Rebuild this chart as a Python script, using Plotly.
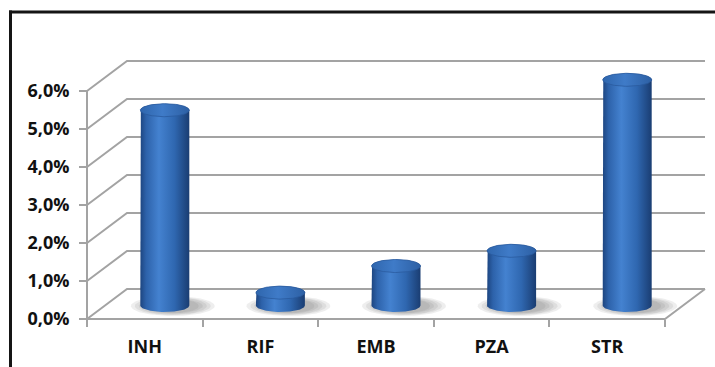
import numpy as np
import plotly.graph_objects as go

# Drug resistance rates per drug
categories = ["INH", "RIF", "EMB", "PZA", "STR"]
values = [0.051, 0.003, 0.010, 0.014, 0.059]
y_ticks = [0.00, 0.01, 0.02, 0.03, 0.04, 0.05, 0.06]

W, H = 715, 367
# pixel geometry of the pseudo-3D box
X0_PX, CAT_PX = 87, 115.6          # front-left corner, width of one category
Y0_PX, PCT_PX = 319, 38.0          # front floor level, pixels per 1 %
DEPTH_DX_PX, DEPTH_DY_PX = 40, 30  # receding offset of the back wall

dx = DEPTH_DX_PX / CAT_PX
dy = DEPTH_DY_PX / PCT_PX / 100
n = len(categories)

x_range = [-X0_PX / CAT_PX, (W - X0_PX) / CAT_PX]
y_range = [(Y0_PX - H) / PCT_PX / 100, Y0_PX / PCT_PX / 100]

GRID = "#a3a3a3"
fig = go.Figure()


def line(xs, ys, color=GRID, width=2):
    fig.add_trace(go.Scatter(x=xs, y=ys, mode="lines", line=dict(color=color, width=width),
                             hoverinfo="skip", showlegend=False))


# side-wall and back-wall gridlines
for v in y_ticks:
    line([0, dx, n + dx], [v, v + dy, v + dy])
# front edges of the box
line([0, 0], [0, y_ticks[-1]])
line([0, n, n + dx], [0, 0, dy])

# cylinder geometry (in data units)
rx = 24.5 / CAT_PX
ry = 6.5 / PCT_PX / 100
base = dy / 2 - 1.5 / PCT_PX / 100
t_up = np.linspace(np.pi, 0, 60)
t_dn = np.linspace(0, -np.pi, 60)
t_all = np.linspace(0, 2 * np.pi, 120)

# soft floor shadows, slightly offset to the right of each base
for i in range(n):
    cx = i + 0.5 + dx / 2
    for sx, sy in [(42, 10), (38, 9), (34, 8.5), (30, 7.5), (26, 7)]:
        ex = cx + 8 / CAT_PX + sx / CAT_PX * np.cos(t_all)
        ey = base - 0.5 / PCT_PX / 100 + sy / PCT_PX / 100 * np.sin(t_all)
        fig.add_trace(go.Scatter(x=ex, y=ey, mode="lines", line=dict(width=0),
                                 fill="toself", fillcolor="rgba(90,90,90,0.10)",
                                 hoverinfo="skip", showlegend=False))

# cylinders
body_scale = [[0.0, "#1d4580"], [0.12, "#2d62aa"], [0.38, "#4482d0"],
              [0.7, "#2f67b0"], [1.0, "#1a3d72"]]
top_scale = [[0.0, "#2f66ad"], [0.45, "#3f7bc8"], [1.0, "#2d60a4"]]
for i, v in enumerate(values):
    cx = i + 0.5 + dx / 2
    top = v + dy / 2
    xs = np.concatenate([[cx - rx], cx + rx * np.cos(t_up), [cx + rx], cx + rx * np.cos(t_dn)])
    ys = np.concatenate([[base], top + ry * np.sin(t_up), [base], base + ry * np.sin(t_dn)])
    fig.add_trace(go.Scatter(x=xs, y=ys, mode="lines", line=dict(width=0),
                             fill="toself",
                             fillgradient=dict(type="horizontal", colorscale=body_scale),
                             hoverinfo="skip", showlegend=False))
    fig.add_trace(go.Scatter(x=cx + rx * np.cos(t_all), y=top + ry * np.sin(t_all),
                             mode="lines", line=dict(width=0.8, color="#2a5b9e"),
                             fill="toself",
                             fillgradient=dict(type="horizontal", colorscale=top_scale),
                             hoverinfo="skip", showlegend=False))

# invisible trace carrying the secondary x axis for boundary tick marks
fig.add_trace(go.Scatter(x=[0, n], y=[0, 0], xaxis="x2", mode="lines",
                         line=dict(width=0), hoverinfo="skip", showlegend=False))

tick_font = dict(family="Open Sans", size=18, color="#111111", weight="bold")
fig.update_layout(
    width=W, height=H, autosize=False,
    margin=dict(l=0, r=0, t=0, b=0),
    paper_bgcolor="white", plot_bgcolor="white",
    separators=", ",
    xaxis=dict(range=x_range, domain=[0, 1], anchor="free", position=(H - Y0_PX) / H,
               tickvals=[i + 0.5 for i in range(n)], ticktext=categories,
               ticks="", showgrid=False, zeroline=False, showline=False,
               tickfont=tick_font, ticklabelstandoff=15),
    xaxis2=dict(range=x_range, overlaying="x", anchor="free", position=(H - Y0_PX) / H,
                tickvals=list(range(n + 1)), ticks="outside", ticklen=7, tickwidth=2,
                tickcolor=GRID, showticklabels=False, showgrid=False, zeroline=False,
                showline=False),
    yaxis=dict(range=y_range, domain=[0, 1], anchor="free", position=X0_PX / W,
               tickvals=y_ticks, tickformat=".1%", ticks="outside", ticklen=8,
               tickwidth=2, tickcolor=GRID, showgrid=False, zeroline=False,
               showline=False, tickfont=tick_font, ticklabelstandoff=6),
    shapes=[
        dict(type="line", xref="paper", yref="paper", x0=10.5 / W, x1=10.5 / W,
             y0=0, y1=(H - 10.5) / H, line=dict(color="#151515", width=3)),
        dict(type="line", xref="paper", yref="paper", x0=9 / W, x1=1,
             y0=(H - 12) / H, y1=(H - 12) / H, line=dict(color="#151515", width=3)),
    ],
)

fig.write_html("out.html")
